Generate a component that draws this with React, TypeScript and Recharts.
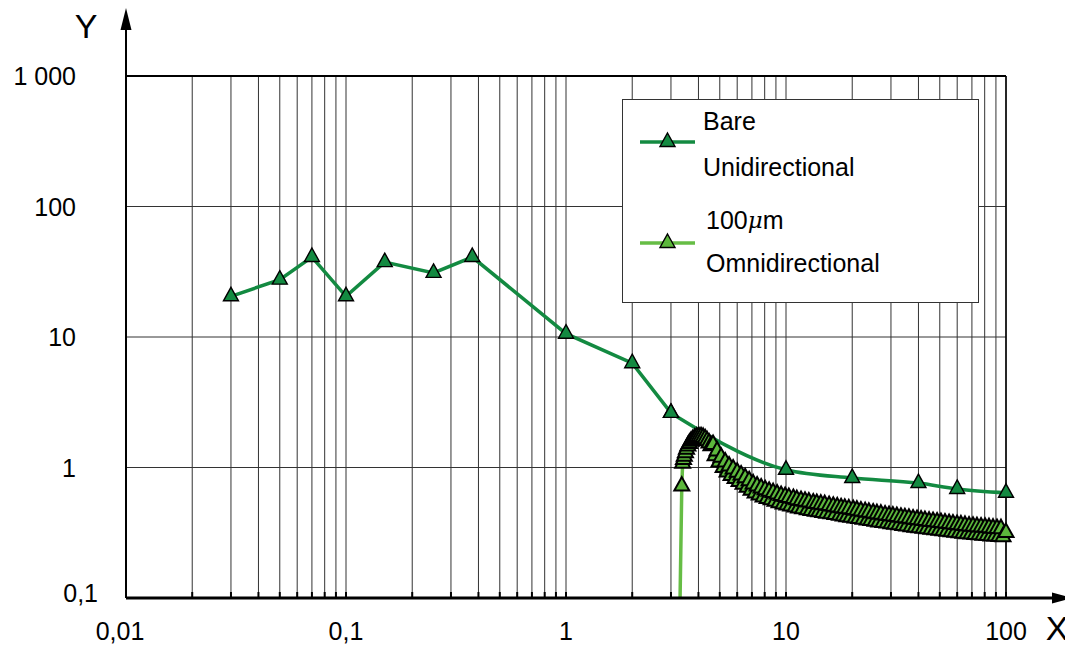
import React from 'react';
import {
  LineChart,
  Line,
  XAxis,
  YAxis,
  CartesianGrid,
  ReferenceLine,
  ReferenceDot,
  Legend,
} from 'recharts';

const FONT = '"Liberation Sans", Arial, Helvetica, sans-serif';

// log ticks (grid lines on every minor step of x, decades only on y)
const xTicks = [
  0.01, 0.02, 0.03, 0.04, 0.05, 0.06, 0.07, 0.08, 0.09,
  0.1, 0.2, 0.3, 0.4, 0.5, 0.6, 0.7, 0.8, 0.9,
  1, 2, 3, 4, 5, 6, 7, 8, 9,
  10, 20, 30, 40, 50, 60, 70, 80, 90,
  100,
];
const yTicks = [0.1, 1, 10, 100, 1000];

const xLabels: Record<string, string> = { '0.01': '0,01', '0.1': '0,1', '1': '1', '10': '10', '100': '100' };
const yLabels: Record<string, string> = { '0.1': '0,1', '1': '1', '10': '10', '100': '100', '1000': '1 000' };

// Bare, unidirectional
const bareX = [0.03, 0.05, 0.07, 0.1, 0.15, 0.25, 0.375, 1, 2, 3, 10, 20, 40, 60, 100];
const bareY = [20.5, 27.5, 41, 20.5, 37.5, 31, 41, 10.6, 6.3, 2.62, 0.96, 0.83, 0.76, 0.685, 0.64];

// 100 µm, omnidirectional (dense, scattered measurement)
const omniX = [
  3.3, 3.36, 3.39, 3.42, 3.45, 3.49, 3.53, 3.58, 3.64, 3.7, 3.77, 3.85, 3.93, 4.02, 4.11, 4.2,
  4.29, 4.38, 4.47, 4.56,
  4.66, 4.76, 4.86, 4.96, 5.07, 5.18, 5.29, 5.4, 5.51, 5.63, 5.75, 5.87, 6.0, 6.12, 6.25, 6.38,
  6.52, 6.66, 6.8, 6.94, 7.09, 7.24, 7.39, 7.55, 7.71, 7.87, 8.04, 8.21, 8.38, 8.56, 8.74, 8.92,
  9.11, 9.3, 9.5, 9.7, 9.91, 10.1, 10.3, 10.5, 10.8, 11.0, 11.2, 11.4, 11.7, 11.9, 12.2, 12.5,
  12.7, 13.0, 13.3, 13.6, 13.8, 14.1, 14.4, 14.7, 15.0, 15.3, 15.7, 16.0, 16.4, 16.7, 17.1, 17.5,
  17.8, 18.2, 18.5, 18.9, 19.3, 19.7, 20.2, 20.6, 21.0, 21.4, 21.9, 22.4, 22.9, 23.4, 23.8, 24.3,
  24.9, 25.4, 25.9, 26.4, 27.0, 27.6, 28.2, 28.8, 29.4, 30.0, 30.6, 31.2, 31.9, 32.6, 33.3, 34.0,
  34.7, 35.4, 36.2, 37.0, 37.8, 38.6, 39.4, 40.2, 41.1, 42.0, 42.8, 43.7, 44.7, 45.6, 46.6, 47.6,
  48.6, 49.6, 50.6, 51.7, 52.8, 53.9, 55.1, 56.3, 57.4, 58.6, 59.9, 61.2, 62.4, 63.7, 65.1, 66.5,
  67.9, 69.3, 70.8, 72.3, 73.8, 75.4, 77.0, 78.6, 80.3, 82.0, 83.7, 85.5, 87.3, 89.1, 91.0, 92.9,
  94.9, 96.9, 100,
];
const omniY = [
  0.1, 0.72, 1.08, 1.15, 1.22, 1.3, 1.38, 1.46, 1.53, 1.59, 1.64, 1.68, 1.71, 1.72, 1.72, 1.7,
  1.66, 1.6, 1.54, 1.47,
  1.498, 1.23, 1.338, 1.1, 1.198, 0.999, 1.102, 0.925, 1.027, 0.869, 0.974, 0.823, 0.92, 0.781, 0.877, 0.744,
  0.835, 0.707, 0.792, 0.669, 0.749, 0.639, 0.722, 0.616, 0.696, 0.595, 0.674, 0.579, 0.658, 0.565, 0.642, 0.551,
  0.626, 0.537, 0.61, 0.525, 0.599, 0.516, 0.589, 0.507, 0.578, 0.498, 0.567, 0.489, 0.559, 0.482, 0.551, 0.475,
  0.544, 0.469, 0.535, 0.462, 0.53, 0.458, 0.524, 0.453, 0.519, 0.447, 0.511, 0.442, 0.505, 0.436, 0.499, 0.431,
  0.492, 0.425, 0.487, 0.42, 0.482, 0.416, 0.476, 0.411, 0.471, 0.406, 0.464, 0.401, 0.459, 0.396, 0.454, 0.392,
  0.448, 0.387, 0.443, 0.383, 0.439, 0.379, 0.433, 0.375, 0.429, 0.371, 0.425, 0.367, 0.421, 0.364, 0.416, 0.36,
  0.412, 0.356, 0.408, 0.352, 0.403, 0.349, 0.399, 0.345, 0.396, 0.342, 0.392, 0.339, 0.388, 0.336, 0.385, 0.333,
  0.382, 0.33, 0.379, 0.327, 0.376, 0.325, 0.372, 0.322, 0.369, 0.319, 0.366, 0.316, 0.363, 0.313, 0.36, 0.311,
  0.356, 0.309, 0.354, 0.307, 0.352, 0.305, 0.35, 0.303, 0.348, 0.301, 0.346, 0.299, 0.343, 0.298, 0.341, 0.296,
  0.34, 0.295, 0.317,
];

const BARE = '#138a41';
const OMNI = '#66bd45';
const OMNI_FILL = '#5cb83c';

const bareRows = bareX.map((x, i) => ({ x, y: bareY[i] }));
const bareLeft = bareRows.filter((r) => r.x <= 3);
const bareRight = bareRows.filter((r) => r.x >= 3);
const omniRows = omniX.map((x, i) => ({ x, y: omniY[i] }));

const tri = (cx: number, cy: number) =>
  `M${cx},${cy - 9} L${cx + 7.5},${cy + 4.5} L${cx - 7.5},${cy + 4.5} Z`;

const makeDot = (fill: string, skipFirst: boolean, sw: number) => (props: any) => {
  const { cx, cy, index } = props;
  if (cx == null || cy == null || (skipFirst && index === 0)) return <g key={`d${index}`} />;
  return <path key={`d${index}`} d={tri(cx, cy)} fill={fill} stroke="#000" strokeWidth={sw} />;
};

const XTick = (props: any) => {
  const { x, y, payload } = props;
  const label = xLabels[String(payload.value)];
  return (
    <g>
      <line x1={x} x2={x} y1={y} y2={y - 6} stroke="#000" strokeWidth={2} />
      {label && (
        <text
          x={payload.value === 0.01 ? x - 6 : x}
          y={y + 33}
          textAnchor="middle"
          dominantBaseline="central"
          fontSize={25}
          fontFamily={FONT}
          fill="#000"
        >
          {label}
        </text>
      )}
    </g>
  );
};

const YTick = (props: any) => {
  const { x, y, payload } = props;
  const label = yLabels[String(payload.value)];
  const low = payload.value === 0.1;
  return (
    <text
      x={low ? x - 28 : x - 50}
      y={low ? y - 5 : y}
      textAnchor="end"
      dominantBaseline="central"
      fontSize={25}
      fontFamily={FONT}
      fill="#000"
    >
      {label}
    </text>
  );
};

const YArrow = (props: any) => {
  const { cx, cy } = props;
  return (
    <g>
      <line x1={cx} x2={cx} y1={cy} y2={cy - 46} stroke="#000" strokeWidth={2} />
      <path d={`M${cx},${cy - 68} L${cx + 5.5},${cy - 46} L${cx - 5.5},${cy - 46} Z`} fill="#000" />
      <text x={cx - 40} y={cy - 50} textAnchor="middle" dominantBaseline="central" fontSize={34} fontFamily={FONT}>
        Y
      </text>
    </g>
  );
};

const XArrow = (props: any) => {
  const { cx, cy } = props;
  return (
    <g>
      <line x1={cx} x2={cx + 46} y1={cy} y2={cy} stroke="#000" strokeWidth={3} />
      <path d={`M${cx + 66},${cy} L${cx + 46},${cy + 5.5} L${cx + 46},${cy - 5.5} Z`} fill="#000" />
      <text x={cx + 51} y={cy + 30} textAnchor="middle" dominantBaseline="central" fontSize={34} fontFamily={FONT}>
        X
      </text>
    </g>
  );
};

const LegendBox = () => (
  <svg width={358} height={205} style={{ display: 'block' }}>
    <rect x={0.5} y={0.5} width={356} height={203} fill="#fff" stroke="#333" strokeWidth={1} />
    <line x1={18} x2={73} y1={43} y2={43} stroke={BARE} strokeWidth={3.5} />
    <path d={tri(45.5, 43)} fill={BARE} stroke="#000" strokeWidth={1.4} />
    <line x1={18} x2={73} y1={144} y2={144} stroke={OMNI} strokeWidth={3.5} />
    <path d={tri(45.5, 144)} fill={OMNI_FILL} stroke="#000" strokeWidth={1.4} />
    <g fontSize={25} fontFamily={FONT} fill="#000">
      <text x={81} y={22} dominantBaseline="central">Bare</text>
      <text x={81} y={68} dominantBaseline="central">Unidirectional</text>
      <text x={84} y={121} dominantBaseline="central">
        100
        <tspan fontFamily='"DejaVu Serif", "Liberation Serif", serif' fontStyle="italic" fontSize={23}>
          μ
        </tspan>
        m
      </text>
      <text x={84} y={164} dominantBaseline="central">Omnidirectional</text>
    </g>
  </svg>
);

export default function App() {
  return (
    <div style={{ width: 1065, height: 640 }}>
      <LineChart width={1065} height={640} margin={{ top: 68, right: 67, bottom: 49, left: 117 }}>
        <CartesianGrid stroke="#333" strokeWidth={1} />
        <XAxis
          type="number"
          dataKey="x"
          scale="log"
          domain={[0.01, 100]}
          ticks={xTicks}
          interval={0}
          height={1}
          tickSize={0}
          tickMargin={0}
          tickLine={false}
          tick={<XTick />}
          axisLine={{ stroke: '#000', strokeWidth: 3 }}
        />
        <YAxis
          type="number"
          dataKey="y"
          scale="log"
          domain={[0.1, 1000]}
          ticks={yTicks}
          interval={0}
          width={1}
          tickSize={0}
          tickMargin={0}
          tickLine={false}
          tick={<YTick />}
          axisLine={{ stroke: '#000', strokeWidth: 2 }}
        />
        <ReferenceLine y={1000} stroke="#000" strokeWidth={2} />
        <ReferenceLine x={100} stroke="#000" strokeWidth={1.5} />
        <ReferenceDot x={0.01} y={1000} ifOverflow="visible" shape={<YArrow />} />
        <ReferenceDot x={100} y={0.1} ifOverflow="visible" shape={<XArrow />} />
        <Legend
          layout="horizontal"
          verticalAlign="middle"
          align="center"
          wrapperStyle={{ position: 'absolute', left: 614, top: 91, width: 358, height: 205 }}
          content={() => <LegendBox />}
        />
        <Line
          data={bareLeft}
          dataKey="y"
          name="Bare Unidirectional"
          type="linear"
          stroke={BARE}
          strokeWidth={3.5}
          dot={makeDot(BARE, false, 1.4)}
          activeDot={false}
          isAnimationActive={false}
        />
        <Line
          data={bareRight}
          dataKey="y"
          name="Bare Unidirectional (tail)"
          type="monotone"
          stroke={BARE}
          strokeWidth={3.5}
          dot={makeDot(BARE, false, 1.4)}
          activeDot={false}
          legendType="none"
          isAnimationActive={false}
        />
        <Line
          data={omniRows}
          dataKey="y"
          name="100μm Omnidirectional"
          type="linear"
          stroke={OMNI}
          strokeWidth={3.5}
          dot={makeDot(OMNI_FILL, true, 2)}
          activeDot={false}
          isAnimationActive={false}
        />
      </LineChart>
    </div>
  );
}
